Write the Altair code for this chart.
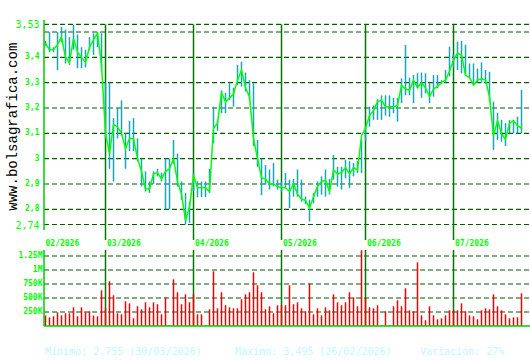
import altair as alt
import pandas as pd

# ---------------- data ----------------
close = [3.455, 3.43, 3.43, 3.45, 3.48, 3.40, 3.38, 3.475, 3.42, 3.40,
         3.38, 3.44, 3.47, 3.495, 3.37, 3.10, 3.02, 3.135, 3.125, 3.10,
         3.04, 3.08, 3.08, 3.00, 2.95, 2.88, 2.88, 2.94, 2.945, 2.92,
         2.95, 2.96, 3.00, 2.91, 2.86, 2.755, 2.81, 2.935, 2.885, 2.885,
         2.885, 2.87, 3.12, 3.14, 3.26, 3.225, 3.24, 3.255, 3.31, 3.35,
         3.28, 3.245, 3.08, 3.00, 2.925, 2.92, 2.90, 2.90, 2.89, 2.885,
         2.885, 2.87, 2.90, 2.86, 2.84, 2.835, 2.805, 2.85, 2.89, 2.91,
         2.915, 2.87, 2.955, 2.94, 2.945, 2.965, 2.94, 2.965, 2.955, 3.09,
         3.12, 3.17, 3.19, 3.225, 3.23, 3.205, 3.205, 3.205, 3.21, 3.29,
         3.275, 3.27, 3.31, 3.28, 3.30, 3.28, 3.245, 3.275, 3.285, 3.30,
         3.31, 3.345, 3.39, 3.416, 3.41, 3.33, 3.32, 3.29, 3.31, 3.315,
         3.31, 3.245, 3.09, 3.15, 3.10, 3.075, 3.14, 3.15, 3.13, 3.12]

high = [3.465, 3.50, 3.44, 3.50, 3.52, 3.51, 3.48, 3.528, 3.49, 3.44,
        3.43, 3.48, 3.495, 3.50, 3.495, 3.30, 3.30, 3.16, 3.20, 3.23,
        3.10, 3.15, 3.16, 3.08, 3.00, 2.95, 2.91, 2.95, 2.96, 2.945,
        3.00, 3.00, 3.074, 3.02, 2.91, 2.864, 2.83, 2.943, 2.91, 2.91,
        2.91, 2.96, 3.205, 3.15, 3.27, 3.26, 3.297, 3.28, 3.37, 3.383,
        3.34, 3.31, 3.297, 3.074, 3.00, 2.975, 2.957, 2.983, 2.917, 2.91,
        2.943, 2.917, 2.92, 2.957, 2.917, 2.85, 2.838, 2.864, 2.91, 2.93,
        2.957, 2.92, 3.015, 2.968, 2.968, 2.996, 2.99, 2.983, 2.99, 3.074,
        3.13, 3.205, 3.21, 3.235, 3.25, 3.25, 3.25, 3.24, 3.24, 3.317,
        3.449, 3.32, 3.33, 3.337, 3.34, 3.337, 3.297, 3.33, 3.33, 3.31,
        3.35, 3.442, 3.41, 3.462, 3.465, 3.45, 3.376, 3.376, 3.356, 3.38,
        3.35, 3.343, 3.225, 3.18, 3.153, 3.14, 3.153, 3.153, 3.166, 3.271]

low = [3.445, 3.42, 3.42, 3.35, 3.46, 3.376, 3.37, 3.43, 3.357, 3.357,
       3.36, 3.43, 3.41, 3.44, 3.36, 3.08, 2.96, 2.91, 3.08, 3.09,
       2.96, 3.03, 3.03, 2.99, 2.89, 2.87, 2.865, 2.90, 2.93, 2.91,
       2.80, 2.80, 2.98, 2.89, 2.838, 2.74, 2.747, 2.871, 2.848, 2.848,
       2.848, 2.864, 3.06, 3.11, 3.18, 3.18, 3.232, 3.205, 3.29, 3.284,
       3.265, 3.232, 3.05, 2.968, 2.856, 2.897, 2.878, 2.891, 2.878, 2.87,
       2.884, 2.805, 2.85, 2.85, 2.83, 2.82, 2.752, 2.824, 2.85, 2.858,
       2.85, 2.858, 2.917, 2.89, 2.878, 2.922, 2.884, 2.93, 2.943, 2.943,
       3.07, 3.126, 3.153, 3.153, 3.153, 3.17, 3.165, 3.18, 3.146, 3.219,
       3.25, 3.25, 3.219, 3.278, 3.24, 3.258, 3.219, 3.245, 3.278, 3.297,
       3.30, 3.325, 3.36, 3.35, 3.337, 3.33, 3.317, 3.291, 3.30, 3.30,
       3.30, 3.225, 3.034, 3.074, 3.067, 3.05, 3.10, 3.10, 3.10, 3.10]

volume_k = [191, 155, 173, 245, 191, 227, 227, 334, 173, 334,
            245, 263, 188, 173, 637, 316, 798, 548, 227, 209,
            441, 405, 137, 352, 298, 423, 334, 423, 388, 209,
            512, 12, 834, 602, 388, 566, 423, 566, 209, 209,
            12, 298, 977, 316, 602, 370, 334, 316, 316, 477,
            566, 602, 959, 727, 602, 298, 352, 227, 370, 370,
            370, 727, 388, 423, 316, 263, 762, 209, 316, 191,
            334, 280, 566, 423, 370, 423, 602, 512, 352, 1352,
            495, 334, 316, 370, 12, 263, 12, 352, 459, 352,
            673, 280, 263, 1137, 191, 102, 352, 191, 120, 137,
            191, 280, 280, 280, 405, 263, 191, 173, 120, 280,
            316, 298, 566, 352, 280, 209, 137, 155, 155, 584]

month_labels = ["02/2026", "03/2026", "04/2026", "05/2026", "06/2026", "07/2026"]
month_start = [0, 15, 37, 59, 80, 102]          # first trading-day index of each month

price_ticks = [2.74, 2.8, 2.9, 3.0, 3.1, 3.2, 3.3, 3.4, 3.5, 3.53]
price_labels = ["2,74", "2,8", "2,9", "3", "3,1", "3,2", "3,3", "3,4", "", "3,53"]
volume_ticks = [250000, 500000, 750000, 1000000, 1250000]
volume_labels = ["250K", "500K", "750K", "1M", "1.25M"]

watermark = "www.bolsagrafica.com"
min_text = "Mínimo: 2,755 (30/03/2026)"
max_text = "Máximo: 3,495 (26/02/2026)"
var_text = "Variación: 27%"

# ---------------- scales / layout ----------------
N = len(close)
X_MIN, X_MAX = -0.375, 121.125
PRICE_DOMAIN = [2.3393, 3.5474]      # price panel occupies the upper part of the frame
VOL_DOMAIN = [0, 5464286]            # volume panel occupies the lower part
PRICE_TOP, PRICE_AXIS_BOTTOM, PRICE_RULE_BOTTOM = 3.547, 2.718, 2.679
VOL_TOP = 1357143

GRID = "#005c00"
MONTH = "#007800"
AXISLINE = "#00cc00"
LABEL = "#00ff00"
TEAL = "#1aa6ba"
RED = "#f00000"
FOOT = "#c0f8ff"

df = pd.DataFrame({
    "day": list(range(N)),
    "close": close,
    "high": high,
    "low": low,
    "volume": [v * 1000 for v in volume_k],
})

xs = alt.Scale(domain=[X_MIN, X_MAX], nice=False, zero=False)
ps = alt.Scale(domain=PRICE_DOMAIN, nice=False, zero=False)
vs = alt.Scale(domain=VOL_DOMAIN, nice=False, zero=False)

months_df = pd.DataFrame({"x": month_start[1:]})
months_df["ptop"] = 3.53
months_df["pbot"] = PRICE_RULE_BOTTOM
months_df["vtop"] = VOL_TOP
months_df["vbot"] = 0

label_df = pd.DataFrame({"label": month_labels,
                         "x": [X_MIN] + month_start[1:]})

pgrid_df = pd.DataFrame({"v": price_ticks, "label": price_labels, "x": X_MIN, "x2": X_MAX})
pgrid_df["big"] = [lab in ("3,53", "2,74") for lab in price_labels]
vgrid_df = pd.DataFrame({"v": volume_ticks, "label": volume_labels, "x": X_MIN, "x2": X_MAX})

paxis_df = pd.DataFrame({"x": [X_MIN], "top": [PRICE_TOP], "bot": [PRICE_AXIS_BOTTOM]})
vaxis_df = pd.DataFrame({"x": [X_MIN], "x2": [X_MAX], "top": [VOL_TOP], "bot": [0]})

XA = alt.X("x:Q", scale=xs, axis=None)
XD = alt.X("day:Q", scale=xs, axis=None)

# ---------------- price panel ----------------
pgrid = alt.Chart(pgrid_df).mark_rule(color=GRID, strokeWidth=1.2, strokeDash=[5, 3]).encode(
    x=XA, x2="x2:Q", y=alt.Y("v:Q", scale=ps, axis=None),
)
plab_small = alt.Chart(pgrid_df[~pgrid_df["big"]]).mark_text(
    align="right", baseline="middle", font="DejaVu Sans Mono", fontWeight="bold",
    fontSize=8, color=LABEL,
).encode(x=alt.value(-4.5), y=alt.Y("v:Q", scale=ps, axis=None), text="label:N")
plab_big = alt.Chart(pgrid_df[pgrid_df["big"]]).mark_text(
    align="right", baseline="middle", font="DejaVu Sans Mono",
    fontSize=10, color=LABEL, dy=1,
).encode(x=alt.value(-4.5), y=alt.Y("v:Q", scale=ps, axis=None), text="label:N")
pmonths = alt.Chart(months_df).mark_rule(color=MONTH, strokeWidth=1.5).encode(
    x=XA, y=alt.Y("ptop:Q", scale=ps, axis=None), y2="pbot:Q",
)
hl = alt.Chart(df).mark_rule(color=TEAL, strokeWidth=1.5).encode(
    x=XD, y=alt.Y("low:Q", scale=ps, axis=None), y2="high:Q",
)
line = alt.Chart(df).mark_line(color="#00ff00", strokeWidth=1.5).encode(
    x=XD, y=alt.Y("close:Q", scale=ps, axis=None),
)
paxis = alt.Chart(paxis_df).mark_rule(color=AXISLINE, strokeWidth=1.5).encode(
    x=XA, y=alt.Y("top:Q", scale=ps, axis=None), y2="bot:Q",
)
price = alt.layer(pgrid, pmonths, hl, line, paxis, plab_small, plab_big)

# ---------------- volume panel ----------------
vgrid = alt.Chart(vgrid_df).mark_rule(color=GRID, strokeWidth=1.2, strokeDash=[5, 3]).encode(
    x=XA, x2="x2:Q", y=alt.Y("v:Q", scale=vs, axis=None),
)
vlab = alt.Chart(vgrid_df).mark_text(
    align="right", baseline="middle", font="DejaVu Sans Mono", fontWeight="bold",
    fontSize=8, color=LABEL,
).encode(x=alt.value(-1.5), y=alt.Y("v:Q", scale=vs, axis=None), text="label:N")
vmonths = alt.Chart(months_df).mark_rule(color=MONTH, strokeWidth=1.5).encode(
    x=XA, y=alt.Y("vtop:Q", scale=vs, axis=None), y2="vbot:Q",
)
vbars = alt.Chart(df).mark_rule(color=RED, strokeWidth=1.5).encode(
    x=XD, y=alt.Y("volume:Q", scale=vs, axis=None), y2=alt.datum(0),
)
vaxis = alt.Chart(vaxis_df).mark_rule(color=AXISLINE, strokeWidth=1.5).encode(
    x=XA, y=alt.Y("top:Q", scale=vs, axis=None), y2="bot:Q",
)
vbase = alt.Chart(vaxis_df).mark_rule(color=AXISLINE, strokeWidth=1.5).encode(
    x=XA, x2="x2:Q", y=alt.Y("bot:Q", scale=vs, axis=None),
)
vol = alt.layer(vgrid, vmonths, vbars, vaxis, vbase, vlab)

# ---------------- texts ----------------
mlabels = alt.Chart(label_df).mark_text(
    align="left", baseline="middle", dx=1.5, font="DejaVu Sans Mono",
    fontWeight="bold", fontSize=8, color=LABEL,
).encode(x=XA, y=alt.value(224), text="label:N")

wm = alt.Chart(pd.DataFrame({"t": [watermark]})).mark_text(
    angle=270, align="center", baseline="middle", font="Liberation Mono",
    fontSize=14, color="#000000",
).encode(x=alt.value(-31), y=alt.value(106.7), text="t:N")

foot_df = pd.DataFrame({"t": [min_text, max_text, var_text]})
def foot(i, px):
    return alt.Chart(foot_df.iloc[[i]]).mark_text(
        align="left", baseline="middle", font="DejaVu Sans Mono",
        fontSize=10, color=FOOT,
    ).encode(x=alt.value(px), y=alt.value(332), text="t:N")

chart = alt.layer(
    price, vol, mlabels, wm, foot(0, 1), foot(1, 191), foot(2, 376)
).resolve_scale(y="independent").properties(
    width=486, height=306,
    autosize=alt.AutoSizeParams(type="none"),
    padding={"left": 44, "top": 20, "right": 0, "bottom": 34},
    background="white",
).configure_view(stroke=None)

chart.save("out.html", embed_options={"renderer": "svg", "actions": False})
